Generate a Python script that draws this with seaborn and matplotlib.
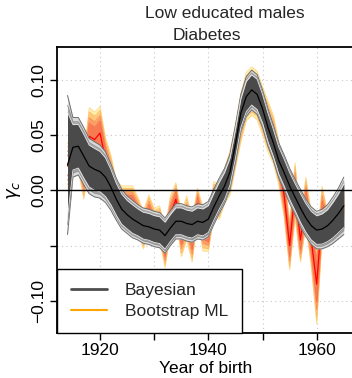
import numpy as np
import pandas as pd
import matplotlib
matplotlib.use("Agg")
import matplotlib.pyplot as plt
from matplotlib.lines import Line2D
import seaborn as sns

# cohort years
years = list(range(1914, 1966))

# Bayesian posterior median and outer half width
bay_med = [0.023, 0.039, 0.040, 0.031, 0.022, 0.019, 0.017, 0.012, 0.003, -0.008,
           -0.017, -0.022, -0.026, -0.029, -0.032, -0.033, -0.035, -0.036, -0.041, -0.034,
           -0.028, -0.028, -0.030, -0.031, -0.028, -0.029, -0.026, -0.015, -0.005, 0.004,
           0.017, 0.042, 0.070, 0.085, 0.091, 0.087, 0.074, 0.057, 0.043, 0.027,
           0.016, 0.004, -0.006, -0.016, -0.025, -0.032, -0.036, -0.035, -0.032, -0.027,
           -0.021, -0.014]
bay_hw = [0.063, 0.027, 0.026, 0.026, 0.025, 0.025, 0.024, 0.023, 0.021, 0.019,
          0.018, 0.017, 0.017, 0.016, 0.016, 0.016, 0.016, 0.016, 0.016, 0.016,
          0.016, 0.016, 0.016, 0.016, 0.016, 0.016, 0.016, 0.016, 0.016, 0.016,
          0.016, 0.017, 0.017, 0.018, 0.018, 0.018, 0.017, 0.017, 0.016, 0.016,
          0.016, 0.016, 0.016, 0.017, 0.017, 0.017, 0.017, 0.018, 0.019, 0.021,
          0.023, 0.026]

# bootstrap ML estimate and outer half width
boot_med = [0.022, 0.036, 0.037, 0.012, 0.049, 0.046, 0.052, 0.028, 0.012, -0.004,
            -0.010, -0.011, -0.012, -0.022, -0.036, -0.020, -0.032, -0.030, -0.052, -0.022,
            -0.008, -0.040, -0.025, -0.045, -0.012, -0.035, -0.040, -0.008, -0.010, 0.004,
            0.016, 0.040, 0.066, 0.085, 0.090, 0.086, 0.072, 0.058, 0.046, 0.025,
            -0.005, -0.050, 0.000, -0.045, -0.010, -0.045, -0.085, -0.020, -0.035, -0.028,
            -0.020, -0.013]
boot_hw = [0.020, 0.020, 0.020, 0.020, 0.026, 0.025, 0.024, 0.020, 0.020, 0.013,
           0.014, 0.015, 0.016, 0.016, 0.017, 0.016, 0.016, 0.016, 0.018, 0.017,
           0.015, 0.020, 0.020, 0.020, 0.014, 0.020, 0.015, 0.016, 0.016, 0.016,
           0.020, 0.020, 0.022, 0.022, 0.022, 0.022, 0.022, 0.023, 0.022, 0.020,
           0.020, 0.022, 0.025, 0.020, 0.022, 0.025, 0.036, 0.024, 0.015, 0.015,
           0.015, 0.015]

df = pd.DataFrame({"year": years, "bay": bay_med, "bay_hw": bay_hw,
                   "boot": boot_med, "boot_hw": boot_hw})

sns.set_theme(style="white")
plt.rcParams['font.family'] = ['Liberation Sans', 'DejaVu Sans']
plt.rcParams['axes.unicode_minus'] = True

fig = plt.figure(figsize=(3.52, 3.78), dpi=100)
ax = fig.add_axes([57/352, 1-333.3/378, (355-57)/352, (333.3-47)/378])

# grid
ax.grid(True, color='#c8c8c8', linestyle=(0, (1, 3)), lw=0.8)
ax.set_axisbelow(True)

# bootstrap ML bands
x = df["year"].values
boot_layers = [(1.0, '#ffeea6', '#ffd27a'), (0.85, '#fec77a', '#fdb463'),
               (0.65, '#fc9d66', '#fb8c5a'), (0.45, '#f77a52', '#f56c48')]
for frac, fc, ec in boot_layers:
    lo = df["boot"] - frac * df["boot_hw"]
    hi = df["boot"] + frac * df["boot_hw"]
    ax.fill_between(x, lo, hi, color=fc, lw=0, zorder=2)
    ax.plot(x, lo, color=ec, lw=0.5, zorder=2)
    ax.plot(x, hi, color=ec, lw=0.5, zorder=2)
sns.lineplot(data=df, x="year", y="boot", color='#ff0000', lw=0.9, ax=ax, zorder=3)

# Bayesian bands
bay_layers = [(1.0, '#d9d9d9', '#6e6e6e', 0.7), (0.86, '#a8a8a8', '#8c8c8c', 0.5),
              (0.76, '#4a4a4a', '#e8e8e8', 0.6)]
for frac, fc, ec, lw in bay_layers:
    lo = df["bay"] - frac * df["bay_hw"]
    hi = df["bay"] + frac * df["bay_hw"]
    ax.fill_between(x, lo, hi, color=fc, lw=0, zorder=4)
    ax.plot(x, lo, color=ec, lw=lw, zorder=4)
    ax.plot(x, hi, color=ec, lw=lw, zorder=4)
sns.lineplot(data=df, x="year", y="bay", color='black', lw=0.9, ax=ax, zorder=5)

ax.axhline(0, color='black', lw=1.0, zorder=6)

ax.set_xlim(1912.06, 1967.07)
ax.set_ylim(-0.1295, 0.1299)

ax.set_xticks([1920, 1930, 1940, 1950, 1960])
ax.set_xticklabels(['1920', '', '1940', '', '1960'])
ax.set_yticks([-0.10, -0.05, 0.0, 0.05, 0.10])
ax.set_yticklabels(['\u22120.10', '', '0.00', '0.05', '0.10'])
ax.tick_params(axis='both', direction='out', length=5, width=1, color='black',
               labelsize=12.5, bottom=True, left=True, labelcolor='black')
ax.tick_params(axis='x', pad=2)
ax.tick_params(axis='y', pad=3)
plt.setp(ax.get_yticklabels(), rotation=90, va='center')

for side in ['top', 'left', 'bottom']:
    ax.spines[side].set_visible(True)
    ax.spines[side].set_color('black')
    ax.spines[side].set_linewidth(1.3)
ax.spines['right'].set_visible(False)

ax.set_xlabel('Year of birth', fontsize=12.5, color='black', labelpad=2)
ax.set_ylabel(r'$\gamma_c$', fontsize=13, color='black', labelpad=6)

fig.text(225/352, 1-14/378, 'Low educated males', ha='center', va='center', fontsize=12.5)
fig.text(207/352, 1-36/378, 'Diabetes', ha='center', va='center', fontsize=12.5)

handles = [Line2D([], [], color='#4d4d4d', lw=2), Line2D([], [], color='#ffa500', lw=1.5)]
leg = ax.legend(handles, ['Bayesian', 'Bootstrap ML'], loc='lower left',
                bbox_to_anchor=(0, 0), borderaxespad=0, fancybox=False, framealpha=1,
                edgecolor='black', fontsize=12.5, handlelength=2.1, handletextpad=1.0,
                borderpad=0.8, labelspacing=0.35)
leg.get_frame().set_linewidth(1.0)
leg.set_zorder(10)

fig.savefig('out.png', dpi=100)
